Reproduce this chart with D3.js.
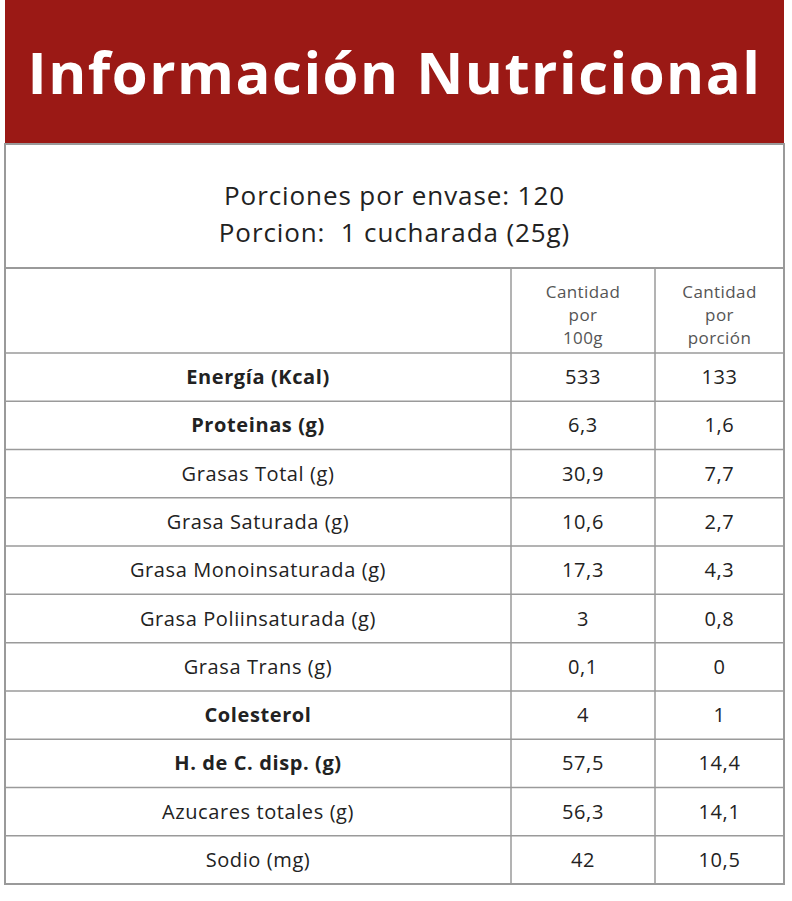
<!DOCTYPE html>
<html>
<head>
<meta charset="utf-8">
<script src="https://cdn.jsdelivr.net/npm/d3@7"></script>
<style>
body { margin: 0; background: #fff; }
text { font-family: "Open Sans", sans-serif; }
</style>
</head>
<body>
<svg id="chart" width="792" height="901"></svg>
<script>
var title = "Información Nutricional";
var subtitle = ["Porciones por envase: 120", "Porcion:\u00a0 1 cucharada (25g)"];
var colHeaders = [["Cantidad", "por", "100g"], ["Cantidad", "por", "porción"]];
var nutrients = ["Energía (Kcal)", "Proteinas (g)", "Grasas Total (g)", "Grasa Saturada (g)",
	"Grasa Monoinsaturada (g)", "Grasa Poliinsaturada (g)", "Grasa Trans (g)", "Colesterol",
	"H. de C. disp. (g)", "Azucares totales (g)", "Sodio (mg)"];
var bold = [true, true, false, false, false, false, false, true, true, false, false];
var per100g = ["533", "6,3", "30,9", "10,6", "17,3", "3", "0,1", "4", "57,5", "56,3", "42"];
var perPortion = ["133", "1,6", "7,7", "2,7", "4,3", "0,8", "0", "1", "14,4", "14,1", "10,5"];

var svg = d3.select("#chart");
var left = 5, right = 784, col1 = 511, col2 = 655;
var lineColor = "#9a9a9a";

// header band
svg.append("rect").attr("x", left).attr("y", 0).attr("width", right - left).attr("height", 144).attr("fill", "#9b1915");
svg.append("text").attr("x", (left + right) / 2).attr("y", 94).attr("text-anchor", "middle")
	.attr("fill", "#fff").attr("font-size", 58).attr("font-weight", 700).attr("letter-spacing", 1.5).text(title);

// subtitle
svg.selectAll(".sub").data(subtitle).enter().append("text")
	.attr("x", (left + right) / 2).attr("y", function(d, i) { return 205 + i * 37; })
	.attr("text-anchor", "middle").attr("font-size", 26).attr("letter-spacing", 0.9).attr("fill", "#222").text(function(d) { return d; });

// rows
var y = d3.scaleBand().domain(d3.range(nutrients.length)).range([353, 884]);

var g = svg.append("g");
g.append("rect").attr("x", left).attr("y", 144).attr("width", right - left).attr("height", 884 - 144)
	.attr("fill", "none").attr("stroke", lineColor).attr("stroke-width", 2);
g.append("line").attr("x1", left).attr("x2", right).attr("y1", 268).attr("y2", 268).attr("stroke", lineColor).attr("stroke-width", 2);
[col1, col2].forEach(function(x) {
	g.append("line").attr("x1", x).attr("x2", x).attr("y1", 268).attr("y2", 884).attr("stroke", lineColor).attr("stroke-width", 1.5);
});
nutrients.forEach(function(d, i) {
	g.append("line").attr("x1", left).attr("x2", right).attr("y1", y(i)).attr("y2", y(i)).attr("stroke", lineColor).attr("stroke-width", 1.5);
});

// column headers
colHeaders.forEach(function(lines, c) {
	var cx = c === 0 ? (col1 + col2) / 2 : (col2 + right) / 2;
	lines.forEach(function(t, k) {
		svg.append("text").attr("x", cx).attr("y", 298 + k * 23).attr("text-anchor", "middle")
			.attr("font-size", 17).attr("letter-spacing", 0.4).attr("fill", "#555").text(t);
	});
});

var rows = svg.selectAll(".row").data(nutrients).enter().append("g")
	.attr("transform", function(d, i) { return "translate(0," + (y(i) + y.bandwidth() / 2 + 7) + ")"; });
rows.append("text").attr("x", (left + col1) / 2).attr("text-anchor", "middle").attr("font-size", 20).attr("letter-spacing", 0.6)
	.attr("font-weight", function(d, i) { return bold[i] ? 700 : 400; }).attr("fill", "#222").text(function(d) { return d; });
rows.append("text").attr("x", (col1 + col2) / 2).attr("text-anchor", "middle").attr("font-size", 20).attr("letter-spacing", 0.6)
	.attr("fill", "#222").text(function(d, i) { return per100g[i]; });
rows.append("text").attr("x", (col2 + right) / 2).attr("text-anchor", "middle").attr("font-size", 20).attr("letter-spacing", 0.6)
	.attr("fill", "#222").text(function(d, i) { return perPortion[i]; });
</script>
</body>
</html>
